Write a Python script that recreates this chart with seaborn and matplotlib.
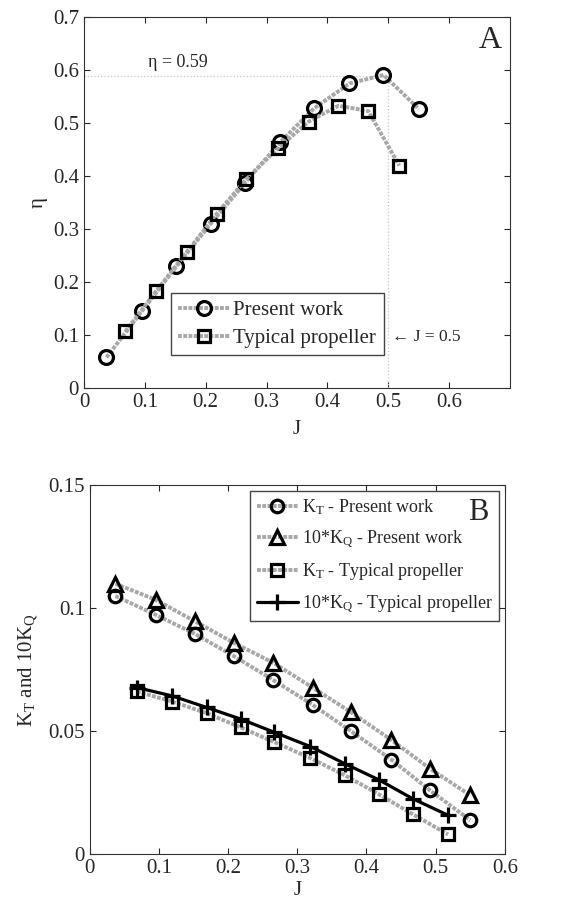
import numpy as np
import pandas as pd
import seaborn as sns
import matplotlib.pyplot as plt
from matplotlib.ticker import FuncFormatter

# Panel A: efficiency vs advance ratio
j_present = [0.037, 0.095, 0.152, 0.208, 0.265, 0.322, 0.378, 0.436, 0.492, 0.550]
eta_present = [0.058, 0.145, 0.230, 0.310, 0.388, 0.464, 0.528, 0.575, 0.591, 0.527]
j_typical = [0.068, 0.119, 0.169, 0.218, 0.267, 0.319, 0.369, 0.418, 0.467, 0.518]
eta_typical = [0.107, 0.184, 0.257, 0.329, 0.395, 0.453, 0.503, 0.533, 0.523, 0.420]
j_opt = 0.5
eta_max = 0.59

# Panel B: thrust and torque coefficients
kt_present = [0.105, 0.0974, 0.0896, 0.0806, 0.0709, 0.0608, 0.0500, 0.0385, 0.0260, 0.0139]
kq10_present = [0.110, 0.1035, 0.0947, 0.0860, 0.0779, 0.0678, 0.0577, 0.0465, 0.0348, 0.0240]
kt_typical = [0.0662, 0.0621, 0.0574, 0.0516, 0.0456, 0.0391, 0.0321, 0.0244, 0.0163, 0.0081]
kq10_typical = [0.0678, 0.0644, 0.0597, 0.0550, 0.0496, 0.0438, 0.0368, 0.0303, 0.0226, 0.0159]

sns.set_style("ticks")
plt.rcParams['font.family'] = ['Liberation Serif', 'DejaVu Serif']
plt.rcParams['mathtext.fontset'] = 'custom'
plt.rcParams['mathtext.rm'] = 'Liberation Serif'
plt.rcParams['mathtext.it'] = 'Liberation Serif:italic'
plt.rcParams['xtick.direction'] = 'in'
plt.rcParams['ytick.direction'] = 'in'
plt.rcParams['xtick.top'] = True
plt.rcParams['ytick.right'] = True

fig = plt.figure(figsize=(5.87, 9.07), dpi=100)
axA = fig.add_axes([0.143, 0.572, 0.726, 0.409])
axB = fig.add_axes([0.153, 0.058, 0.707, 0.407])

fmt = FuncFormatter(lambda v, p: '%g' % round(v, 3))
# thick light-grey textured line with hollow black markers
gray_line = dict(color='#a8a8a8', linewidth=2.8, linestyle=(0, (1, 0.35)),
                 markeredgecolor='black', markerfacecolor='none', markeredgewidth=2.3,
                 sort=False, errorbar=None)

# ---- Panel A ----
dfA1 = pd.DataFrame({'J': j_present, 'eta': eta_present})
dfA2 = pd.DataFrame({'J': j_typical, 'eta': eta_typical})
axA.plot([0, j_opt], [eta_max, eta_max], color='#c8c8c8', linewidth=0.9, linestyle=':')
axA.plot([j_opt, j_opt], [0, eta_max], color='#c8c8c8', linewidth=0.9, linestyle=':')
sns.lineplot(data=dfA1, x='J', y='eta', ax=axA, marker='o', markersize=10, label='Present work', **gray_line)
sns.lineplot(data=dfA2, x='J', y='eta', ax=axA, marker='s', markersize=9, label='Typical propeller', **gray_line)
axA.set_xlim(0, 0.7)
axA.set_ylim(0, 0.7)
axA.set_xticks(np.arange(0, 0.61, 0.1))
axA.set_yticks(np.arange(0, 0.71, 0.1))
axA.xaxis.set_major_formatter(fmt)
axA.yaxis.set_major_formatter(fmt)
axA.tick_params(labelsize=15, length=4, width=0.8)
axA.set_xlabel('J', fontsize=15, labelpad=6)
axA.set_ylabel('η', fontsize=15)
axA.text(0.106, 0.614, 'η = 0.59', fontsize=13, ha='left', va='center')
axA.text(0.506, 0.097, '← J = 0.5', fontsize=12.5, ha='left', va='center')
axA.text(0.667, 0.657, 'A', fontsize=23, ha='center', va='center')
axA.legend(loc='lower left', bbox_to_anchor=(0.204, 0.089), borderaxespad=0,
           fontsize=15, fancybox=False, edgecolor='#444444', framealpha=1,
           handlelength=2.5, handletextpad=0.15, labelspacing=0.4, borderpad=0.35)

# ---- Panel B ----
series_B = [
    (j_present, kt_present, 'o', 9, r'K$_\mathrm{T}$ - Present work'),
    (j_present, kq10_present, '^', 10, r'10*K$_\mathrm{Q}$ - Present work'),
    (j_typical, kt_typical, 's', 8.5, r'K$_\mathrm{T}$ - Typical propeller'),
]
for jj, vals, mk, ms, lab in series_B:
    dfB = pd.DataFrame({'J': jj, 'K': vals})
    sns.lineplot(data=dfB, x='J', y='K', ax=axB, marker=mk, markersize=ms, label=lab, **gray_line)
dfB4 = pd.DataFrame({'J': j_typical, 'K': kq10_typical})
sns.lineplot(data=dfB4, x='J', y='K', ax=axB, color='black', linewidth=2.3, marker='+',
             markersize=12, markeredgewidth=2.3, markeredgecolor='black',
             sort=False, errorbar=None,
             label=r'10*K$_\mathrm{Q}$ - Typical propeller')
axB.set_xlim(0, 0.6)
axB.set_ylim(0, 0.15)
axB.set_xticks(np.arange(0, 0.61, 0.1))
axB.set_yticks([0, 0.05, 0.1, 0.15])
axB.xaxis.set_major_formatter(fmt)
axB.yaxis.set_major_formatter(fmt)
axB.tick_params(labelsize=15, length=4, width=0.8)
axB.set_xlabel('J', fontsize=15, labelpad=2)
axB.set_ylabel(r'K$_\mathrm{T}$ and 10K$_\mathrm{Q}$', fontsize=15, labelpad=6)
axB.legend(loc='upper right', bbox_to_anchor=(0.986, 0.984), borderaxespad=0,
           fontsize=13, fancybox=False, edgecolor='#444444', framealpha=1,
           handlelength=2.3, handletextpad=0.2, labelspacing=0.62, borderpad=0.35)
axB.text(0.562, 0.139, 'B', fontsize=22, ha='center', va='center', zorder=10)

for ax in (axA, axB):
    for s in ax.spines.values():
        s.set_linewidth(0.8)
        s.set_color('#333333')

fig.savefig('out.png', dpi=100)
